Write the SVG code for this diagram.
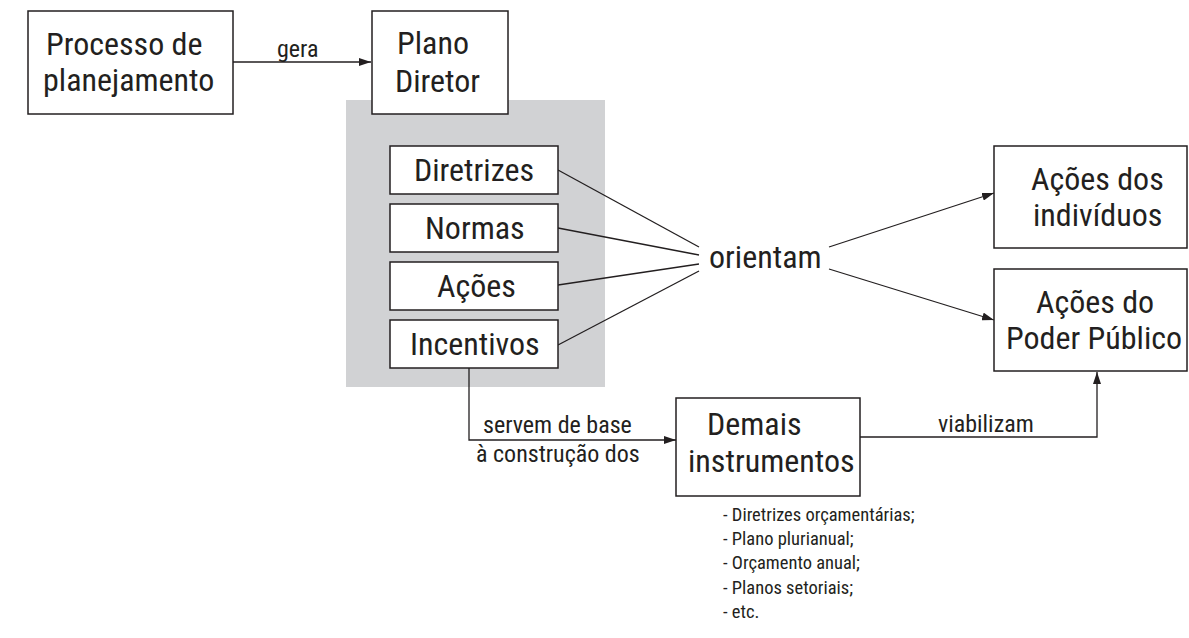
<svg xmlns="http://www.w3.org/2000/svg" width="1189" height="638" viewBox="0 0 1189 638">
  <style>
    .box { fill: #ffffff; stroke: #231f20; stroke-width: 1.5; }
    .ln { fill: none; stroke: #231f20; stroke-width: 1.3; }
    text { font-family: Roboto, "Liberation Sans", sans-serif; font-stretch: 75%; fill: #231f20; }
    .big { font-size: 32px; }
    .ori { font-size: 32px; }
    .lbl { font-size: 24px; }
    .lst { font-size: 18.5px; }
  </style>
  <defs>
    <marker id="arr" viewBox="0 0 12 8" refX="12" refY="4" markerWidth="12" markerHeight="8" markerUnits="userSpaceOnUse" orient="auto">
      <path d="M0,0 L12,4 L0,8 Z" fill="#231f20"/>
    </marker>
  </defs>
  <rect id="gray-panel" x="346" y="100" width="259" height="287" fill="#d1d2d4"/>

  <g id="connectors">
    <line class="ln" x1="233" y1="62" x2="371" y2="62" marker-end="url(#arr)"/>
    <line class="ln" x1="558" y1="170" x2="699" y2="247"/>
    <line class="ln" x1="558" y1="228" x2="699" y2="255"/>
    <line class="ln" x1="558" y1="285" x2="699" y2="264"/>
    <line class="ln" x1="558" y1="345" x2="699" y2="271"/>
    <line class="ln" x1="829" y1="247" x2="994" y2="193" marker-end="url(#arr)"/>
    <line class="ln" x1="829" y1="269" x2="994" y2="320" marker-end="url(#arr)"/>
    <polyline class="ln" points="469,368 469,440 676,440" marker-end="url(#arr)"/>
    <polyline class="ln" points="860,437 1097,437 1097,372" marker-end="url(#arr)"/>
    <text class="lbl" x="277" y="57">gera</text>
    <text class="lbl" x="483" y="433">servem de base</text>
    <text class="lbl" x="476" y="462">à construção dos</text>
    <text class="lbl" x="938" y="432">viabilizam</text>
  </g>

  <g id="processo">
    <rect class="box" x="28" y="11" width="205" height="103"/>
    <text class="big" x="46" y="55">Processo de</text>
    <text class="big" x="43" y="91">planejamento</text>
  </g>

  <g id="plano-diretor">
    <rect class="box" x="372" y="11" width="136" height="103"/>
    <text class="big" x="397" y="54">Plano</text>
    <text class="big" x="395" y="92">Diretor</text>
  </g>

  <g id="diretrizes">
    <rect class="box" x="390" y="146" width="168" height="48"/>
    <text class="big" x="414" y="181">Diretrizes</text>
  </g>
  <g id="normas">
    <rect class="box" x="390" y="204" width="168" height="48"/>
    <text class="big" x="425" y="239">Normas</text>
  </g>
  <g id="acoes">
    <rect class="box" x="390" y="262" width="168" height="48"/>
    <text class="big" x="437" y="297">Ações</text>
  </g>
  <g id="incentivos">
    <rect class="box" x="390" y="320" width="168" height="48"/>
    <text class="big" x="410" y="355">Incentivos</text>
  </g>

  <g id="orientam">
    <text class="ori" x="709" y="268">orientam</text>
  </g>

  <g id="acoes-individuos">
    <rect class="box" x="994" y="146" width="193" height="102"/>
    <text class="big" x="1031" y="190">Ações dos</text>
    <text class="big" x="1033" y="226">indivíduos</text>
  </g>

  <g id="acoes-poder-publico">
    <rect class="box" x="994" y="269" width="193" height="102"/>
    <text class="big" x="1036" y="313">Ações do</text>
    <text class="big" x="1006" y="349">Poder Público</text>
  </g>

  <g id="demais-instrumentos">
    <rect class="box" x="676" y="398" width="184" height="98"/>
    <text class="big" x="707" y="435">Demais</text>
    <text class="big" x="688" y="472">instrumentos</text>
  </g>

  <g id="lista">
    <text class="lst" x="723" y="521">- Diretrizes orçamentárias;</text>
    <text class="lst" x="723" y="545">- Plano plurianual;</text>
    <text class="lst" x="723" y="569">- Orçamento anual;</text>
    <text class="lst" x="723" y="594">- Planos setoriais;</text>
    <text class="lst" x="723" y="618">- etc.</text>
  </g>
</svg>
